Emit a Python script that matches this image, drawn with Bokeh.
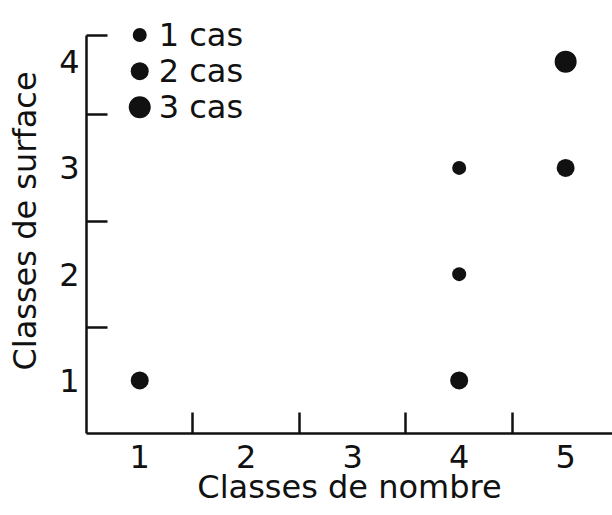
from bokeh.plotting import figure
from bokeh.models import FixedTicker, Range1d, ColumnDataSource
from bokeh.core.properties import value
from bokeh.embed import file_html
from bokeh.resources import INLINE

# Data
x_classes = [1, 4, 4, 4, 5, 5]          # Classes de nombre
y_classes = [1, 1, 2, 3, 3, 4]          # Classes de surface
n_cas = [2, 2, 1, 1, 2, 3]              # nombre de cas
x_ticks = [1, 2, 3, 4, 5]
y_ticks = [1, 2, 3, 4]
legend_cas = [1, 2, 3]
legend_labels = ["1 cas", "2 cas", "3 cas"]

FONT = "DejaVu Sans"
INK = "#111111"
FS = "32px"
size_for = {1: 14, 2: 18, 3: 22}

p = figure(width=612, height=515,
           x_range=Range1d(0.5, 5.44), y_range=Range1d(0.5, 4.5),
           output_backend="svg", toolbar_location=None,
           min_border_left=86, min_border_right=0,
           min_border_top=8, min_border_bottom=82)
p.outline_line_color = None
p.grid.visible = False
p.background_fill_color = "white"
p.border_fill_color = "white"

# axes
p.xaxis.ticker = FixedTicker(ticks=x_ticks, minor_ticks=[1.5, 2.5, 3.5, 4.5])
p.yaxis.ticker = FixedTicker(ticks=y_ticks, minor_ticks=[1.5, 2.5, 3.5, 4.25])
p.yaxis.bounds = (0.5, 4.25)
for ax in (p.xaxis, p.yaxis):
    ax.axis_line_color = INK
    ax.axis_line_width = 2.5
    ax.major_tick_in = 0
    ax.major_tick_out = 0
    ax.minor_tick_in = 21
    ax.minor_tick_out = 0
    ax.minor_tick_line_color = INK
    ax.minor_tick_line_width = 2.5
    ax.major_label_text_font = FONT
    ax.major_label_text_font_size = FS
    ax.major_label_text_color = INK
    ax.axis_label_text_font = FONT
    ax.axis_label_text_font_size = FS
    ax.axis_label_text_font_style = "normal"
    ax.axis_label_text_color = INK

p.xaxis.axis_label = "Classes de nombre"
p.yaxis.axis_label = "Classes de surface"
p.xaxis.major_label_standoff = 11
p.yaxis.major_label_standoff = 7
p.xaxis.axis_label_standoff = -3
p.yaxis.axis_label_standoff = 12

src = ColumnDataSource(dict(x=x_classes, y=y_classes,
                            s=[size_for[n] for n in n_cas]))
p.scatter("x", "y", size="s", source=src, color=INK, line_width=0)

# legend drawn in data space at the top-left
leg_y = [4.25 - 0.34 * i for i in range(len(legend_cas))]
leg_x = [1.0] * len(legend_cas)
lsrc = ColumnDataSource(dict(x=leg_x, y=leg_y,
                             s=[size_for[n] for n in legend_cas],
                             t=legend_labels))
p.scatter("x", "y", size="s", source=lsrc, color=INK, line_width=0)
p.text("x", "y", text="t", source=lsrc, x_offset=19, text_baseline="middle",
       text_font=value(FONT), text_font_size=FS, text_color=INK)

open("out.html", "w").write(file_html(p, INLINE))
